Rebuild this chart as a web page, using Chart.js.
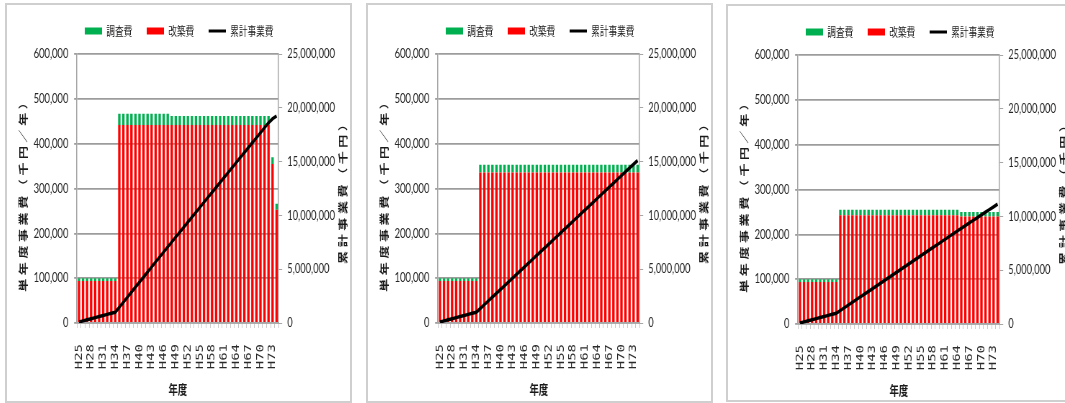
<!DOCTYPE html>
<html lang="ja">
<head>
<meta charset="utf-8">
<title>単年度事業費と累計事業費</title>
<script src="https://cdn.jsdelivr.net/npm/chart.js@4.4.1/dist/chart.umd.min.js"></script>
<style>
  html, body { margin: 0; padding: 0; background: #fff; width: 1065px; height: 403px; overflow: hidden; }
  .panel { position: absolute; border: 2px solid #cfcfcf; overflow: hidden; background: #fff; }
  /* charts are laid out wide and drawn condensed horizontally */
  .panel canvas { position: absolute; left: 0; top: 0; transform: scaleX(0.72); transform-origin: 0 0; }
</style>
</head>
<body>
<div class="panel" style="left:5px;top:3px;width:343px;height:396px"><canvas id="c1" width="478" height="397"></canvas></div>
<div class="panel" style="left:366px;top:3px;width:343px;height:396px"><canvas id="c2" width="478" height="397"></canvas></div>
<div class="panel" style="left:726px;top:4px;width:344px;height:394px"><canvas id="c3" width="478" height="397"></canvas></div>

<script>
// 年度 (fiscal years)
const years = ['H25','H26','H27','H28','H29','H30','H31','H32','H33','H34',
  'H35','H36','H37','H38','H39','H40','H41','H42','H43','H44',
  'H45','H46','H47','H48','H49','H50','H51','H52','H53','H54',
  'H55','H56','H57','H58','H59','H60','H61','H62','H63','H64',
  'H65','H66','H67','H68','H69','H70','H71','H72','H73','H74'];

// Case 1 (千円/年, 累計は千円)
const survey1 = [6000,6000,6000,6000,6000,6000,6000,6000,6000,6000,
  25000,25000,25000,25000,25000,25000,25000,25000,25000,25000,
  25000,25000,25000,20000,20000,20000,20000,20000,20000,20000,
  20000,20000,20000,20000,20000,20000,20000,20000,20000,20000,
  20000,20000,20000,20000,20000,20000,20000,20000,15000,13000];
const renovation1 = [94000,94000,94000,94000,94000,94000,94000,94000,94000,94000,
  442000,442000,442000,442000,442000,442000,442000,442000,442000,442000,
  442000,442000,442000,442000,442000,442000,442000,442000,442000,442000,
  442000,442000,442000,442000,442000,442000,442000,442000,442000,442000,
  442000,442000,442000,442000,442000,442000,442000,442000,355000,253000];
const cumulative1 = [100000,200000,300000,400000,500000,600000,700000,800000,900000,1000000,
  1467000,1934000,2401000,2868000,3335000,3802000,4269000,4736000,5203000,5670000,
  6137000,6604000,7071000,7533000,7995000,8457000,8919000,9381000,9843000,10305000,
  10767000,11229000,11691000,12153000,12615000,13077000,13539000,14001000,14463000,14925000,
  15387000,15849000,16311000,16773000,17235000,17697000,18159000,18621000,18991000,19257000];

// Case 2
const survey2 = [6000,6000,6000,6000,6000,6000,6000,6000,6000,6000,
  17000,17000,17000,17000,17000,17000,17000,17000,17000,17000,
  17000,17000,17000,17000,17000,17000,17000,17000,17000,17000,
  17000,17000,17000,17000,17000,17000,17000,17000,17000,17000,
  17000,17000,17000,17000,17000,17000,17000,17000,17000,17000];
const renovation2 = [94000,94000,94000,94000,94000,94000,94000,94000,94000,94000,
  336000,336000,336000,336000,336000,336000,336000,336000,336000,336000,
  336000,336000,336000,336000,336000,336000,336000,336000,336000,336000,
  336000,336000,336000,336000,336000,336000,336000,336000,336000,336000,
  336000,336000,336000,336000,336000,336000,336000,336000,336000,336000];
const cumulative2 = [100000,200000,300000,400000,500000,600000,700000,800000,900000,1000000,
  1353000,1706000,2059000,2412000,2765000,3118000,3471000,3824000,4177000,4530000,
  4883000,5236000,5589000,5942000,6295000,6648000,7001000,7354000,7707000,8060000,
  8413000,8766000,9119000,9472000,9825000,10178000,10531000,10884000,11237000,11590000,
  11943000,12296000,12649000,13002000,13355000,13708000,14061000,14414000,14767000,15120000];

// Case 3
const survey3 = [6000,6000,6000,6000,6000,6000,6000,6000,6000,6000,
  12000,12000,12000,12000,12000,12000,12000,12000,12000,12000,
  12000,12000,12000,12000,12000,12000,12000,12000,12000,12000,
  12000,12000,12000,12000,12000,12000,12000,12000,12000,12000,
  10000,10000,10000,10000,10000,10000,10000,10000,10000,10000];
const renovation3 = [94000,94000,94000,94000,94000,94000,94000,94000,94000,94000,
  243000,243000,243000,243000,243000,243000,243000,243000,243000,243000,
  243000,243000,243000,243000,243000,243000,243000,243000,243000,243000,
  243000,243000,243000,243000,243000,243000,243000,243000,243000,243000,
  240000,240000,240000,240000,240000,240000,240000,240000,240000,240000];
const cumulative3 = [100000,200000,300000,400000,500000,600000,700000,800000,900000,1000000,
  1255000,1510000,1765000,2020000,2275000,2530000,2785000,3040000,3295000,3550000,
  3805000,4060000,4315000,4570000,4825000,5080000,5335000,5590000,5845000,6100000,
  6355000,6610000,6865000,7120000,7375000,7630000,7885000,8140000,8395000,8650000,
  8900000,9150000,9400000,9650000,9900000,10150000,10400000,10650000,10900000,11150000];

// Series names and axis titles
const seriesNames = { survey: '調査費', renovation: '改築費', cumulative: '累計事業費' };
const yearAxisTitle = '年度';
const annualAxisTitle = '単年度事業費（千円／年）';
const cumulativeAxisTitle = '累計事業費（千円）';

const JP = '"Noto Sans CJK JP", "Noto Sans CJK SC", sans-serif';
const NUM = 'Lato, "Liberation Sans", sans-serif';
const GREEN = '#00b050';
const RED = '#ff0000';
const AXIS_GRAY = '#a6a6a6';

// Rotated axis titles for both value axes, read bottom to top with spaced characters
const verticalTitles = {
  id: 'verticalTitles',
  afterDraw(chart, args, opts) {
    const ctx = chart.ctx;
    ctx.save();
    ctx.font = opts.font;
    ctx.fillStyle = opts.color;
    ctx.textAlign = 'center';
    ctx.textBaseline = 'middle';
    if ('letterSpacing' in ctx) ctx.letterSpacing = opts.spacing + 'px';
    const draw = (text, x, y) => {
      ctx.save();
      ctx.translate(x, y);
      ctx.rotate(-Math.PI / 2);
      ctx.fillText(text, opts.spacing / 2, 0);
      ctx.restore();
    };
    draw(opts.left, opts.leftX, opts.leftY);
    draw(opts.right, opts.rightX, opts.rightY);
    ctx.restore();
  }
};

const fmt = v => Number(v).toLocaleString('en-US');

function makeChart(id, survey, renovation, cumulative) {
  const legendRank = [1, 0, 2];
  return new Chart(document.getElementById(id), {
    type: 'bar',
    data: {
      labels: years,
      datasets: [
        { label: seriesNames.renovation, data: renovation, backgroundColor: RED, borderWidth: 0,
          stack: 'cost', order: 1, barPercentage: 0.6, categoryPercentage: 1.0, yAxisID: 'y' },
        { label: seriesNames.survey, data: survey, backgroundColor: GREEN, borderWidth: 0,
          stack: 'cost', order: 1, barPercentage: 0.6, categoryPercentage: 1.0, yAxisID: 'y' },
        { type: 'line', label: seriesNames.cumulative, data: cumulative, borderColor: '#000000',
          backgroundColor: '#000000', borderWidth: 3.5, pointRadius: 0, tension: 0, order: 0, yAxisID: 'y1' }
      ]
    },
    options: {
      responsive: false,
      animation: false,
      devicePixelRatio: 1,
      layout: { padding: { top: 0, left: 0, right: 0, bottom: 0 } },
      plugins: {
        tooltip: { enabled: false },
        // empty title used as a gap between the legend and the plot area
        title: { display: true, text: '', weight: 500, font: { size: 1 }, padding: { top: 6, bottom: 0 } },
        legend: {
          position: 'top',
          labels: {
            font: { family: JP, size: 12 },
            color: '#1a1a1a',
            padding: 20,
            usePointStyle: true,
            pointStyleWidth: 24,
            boxHeight: 7,
            generateLabels(chart) {
              return chart.data.datasets.map((ds, i) => ({
                text: ds.label,
                datasetIndex: i,
                fillStyle: ds.type === 'line' ? ds.borderColor : ds.backgroundColor,
                strokeStyle: ds.type === 'line' ? ds.borderColor : ds.backgroundColor,
                lineWidth: ds.type === 'line' ? 3 : 0,
                pointStyle: ds.type === 'line' ? 'line' : 'rect',
                fontColor: '#1a1a1a',
                hidden: false
              }));
            },
            sort: (a, b) => legendRank[a.datasetIndex] - legendRank[b.datasetIndex]
          }
        },
        verticalTitles: {
          font: 'bold 13px ' + JP,
          color: '#1a1a1a',
          spacing: 3.6,
          left: annualAxisTitle, leftX: 22, leftY: 189,
          right: cumulativeAxisTitle, rightX: 466, rightY: 186
        }
      },
      scales: {
        x: {
          stacked: true,
          offset: true,
          grid: { display: true, drawOnChartArea: false, drawTicks: true, tickLength: 5, color: '#c8c8c8', offset: true },
          border: { display: true, color: AXIS_GRAY, width: 1.5 },
          ticks: {
            autoSkip: false,
            minRotation: 90,
            maxRotation: 90,
            padding: 16,
            color: '#2a2a2a',
            font: { family: '"DejaVu Sans Mono", monospace', size: 14 },
            callback(value, index) { return index % 3 === 0 ? this.getLabelForValue(value) : ''; }
          },
          title: { display: true, text: yearAxisTitle, color: '#1a1a1a',
                   font: { family: JP, size: 13, weight: 'bold' }, padding: { top: 0, bottom: 5 } },
          afterFit(scale) { scale.height = 79; }
        },
        y: {
          position: 'left',
          stacked: true,
          min: 0,
          max: 600000,
          ticks: { stepSize: 100000, padding: 8, color: '#262626',
                   font: { family: NUM, size: 13 }, callback: v => fmt(v) },
          grid: { color: '#9c9c9c', lineWidth: 1.8, tickLength: 4 },
          border: { display: true, color: AXIS_GRAY, width: 1.5 },
          afterFit(scale) { scale.width = 97.2; }
        },
        y1: {
          position: 'right',
          min: 0,
          max: 25000000,
          ticks: { stepSize: 5000000, padding: 7, color: '#262626',
                   font: { family: NUM, size: 13 }, callback: v => fmt(v) },
          grid: { drawOnChartArea: false, drawTicks: true, tickLength: 5, color: AXIS_GRAY },
          border: { display: true, color: AXIS_GRAY, width: 1.5 },
          afterFit(scale) { scale.width = 100.8; }
        }
      }
    },
    plugins: [verticalTitles]
  });
}

makeChart('c1', survey1, renovation1, cumulative1);
makeChart('c2', survey2, renovation2, cumulative2);
makeChart('c3', survey3, renovation3, cumulative3);
</script>
</body>
</html>
